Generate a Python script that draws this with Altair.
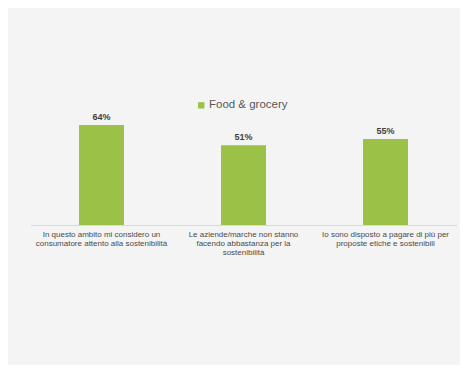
import altair as alt
import pandas as pd

categories = [
    "In questo ambito mi considero un\nconsumatore attento alla sostenibilità",
    "Le aziende/marche non stanno\nfacendo abbastanza per la\nsostenibilità",
    "Io sono disposto a pagare di più per\nproposte etiche e sostenibili",
]
values = [64, 51, 55]
labels = ["64%", "51%", "55%"]
series = "Food & grocery"

df = pd.DataFrame({
    "cat": [f"c{i}" for i in range(len(categories))],
    "catlabel": categories,
    "value": values,
    "label": labels,
    "series": [series] * len(values),
})

GREEN = "#9bc146"
FONT = "Liberation Sans"

x = alt.X("cat:N", sort=None,
          scale=alt.Scale(paddingInner=0, paddingOuter=0),
          axis=alt.Axis(title=None, labels=False, ticks=False,
                        domainColor="#d9d9d9", domainWidth=1))
y = alt.Y("value:Q", scale=alt.Scale(domain=[0, 70], nice=False, zero=True),
          axis=None)

bars = alt.Chart(df).mark_bar(size=45).encode(
    x=x, y=y,
    color=alt.Color("series:N",
                    scale=alt.Scale(domain=[series], range=[GREEN]),
                    legend=alt.Legend(title=None, orient="none",
                                      legendX=165, legendY=-16,
                                      symbolType="square", symbolSize=40,
                                      labelFontSize=11.5, labelFont=FONT,
                                      labelColor="#595959", padding=0,
                                      labelOffset=2,
                                      symbolStrokeWidth=0)),
)

vals = alt.Chart(df).mark_text(baseline="bottom", dy=-3, fontSize=9,
                               fontWeight="bold", font=FONT,
                               color="#404040").encode(
    x=x, y=y, text="label:N")

cats = alt.Chart(df).mark_text(baseline="top", dy=6, fontSize=8,
                               font=FONT, color="#4a4a4a",
                               lineBreak="\n", lineHeight=9).encode(
    x=x, y=alt.datum(0), text="catlabel:N")

chart = alt.layer(bars, vals, cats).properties(
    width=426, height=109.375,
    autosize=alt.AutoSizeParams(type="none"),
    padding={"left": 22.5, "top": 107.6, "right": 3.5, "bottom": 140},
    background="#f4f4f4",
).configure_view(stroke=None)

chart.save("out.html", embed_options={"renderer": "svg", "actions": False})
